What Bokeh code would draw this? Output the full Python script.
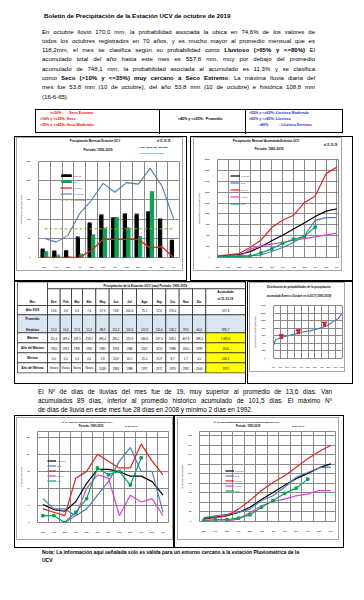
from bokeh.plotting import figure
from bokeh.models import Div, Spacer, Range1d, FixedTicker, Legend, LegendItem
from bokeh.layouts import column, row
from bokeh.embed import file_html
from bokeh.resources import INLINE
from bokeh.core.properties import value

FONT = "Liberation Sans"
GRID = "#8a8a8a"
FRAME = "#a6a6a6"
BLUE = "#4a7ebb"
RED = "#e2231a"
MAG = "#e03ce0"
GREEN = "#00a84f"
OLIVE = "#9aae2e"

# ---------------- data ----------------
meses = ["Ene", "Feb", "Mar", "Abr", "May", "Jun", "Jul", "Ago", "Sep", "Oct", "Nov", "Dic"]

lluvia_2019 = [13.6, 4.6, 0.0, 7.4, 57.3, 74.8, 102.6, 75.1, 52.6, 170.0]
promedio_hist = [21.3, 16.3, 17.3, 52.4, 88.9, 110.3, 102.6, 112.9, 111.6, 118.2, 99.5, 44.4]
maximo = [111.6, 189.4, 139.3, 318.3, 285.4, 290.1, 223.9, 344.6, 247.6, 318.1, 407.3, 188.4]
anio_maximo = ["1950", "1951", "1995", "1981", "1987", "1956", "1986", "2007", "2010", "1988", "2010", "1999"]
minimo = [0.0, 0.0, 0.0, 0.0, 5.8, 20.8, 20.5, 25.0, 31.9, 8.7, 1.7, 0.0]
anio_minimo = ["Varios", "Varios", "Varios", "Varios", "2018", "1984", "1988", "1971", "1971", "1973", "1992", "2006"]
acumulado = ["557,8", "895,7", "1.695,5", "2010", "446,5", "1971"]

linea_azul = [50, 40, 57, 114, 149, 193, 170, 195, 191, 232, 187, 101]
linea_roja = [0, 0, 0, 0, 19, 47, 47, 47, 47, 25, 28, 0]
media_mensual = [74.7, 74.7, 74.7, 74.7, 74.7, 74.7, 74.7, 74.7, 74.7, 74.7, 74.7, 74.7]

acum_promedio = [21.3, 37.6, 54.9, 107.3, 196.2, 306.5, 409.1, 522.0, 633.6, 751.8, 851.3, 895.7]
acum_2018 = [20, 25, 30, 35, 45, 110, 183, 275, 400, 683, 732, 735]
acum_maximo = [30, 50, 73, 183, 317, 549, 683, 775, 1006, 1128, 1537, 1660]
acum_minimo = [0, 0, 12, 150, 213, 244, 275, 317, 348, 378, 415, 446.5]
acum_2019 = [13.6, 18.2, 18.2, 25.6, 82.9, 157.7, 260.3, 335.4, 388.0, 557.8]

prob_pct = [0, 3, 9, 17, 31, 41, 53, 66, 78, 86, 94, 100]
prob_mm = [351, 497, 540, 583, 643, 694, 729, 797, 866, 968, 1054, 1208]
marca_pct = [11.3, 36, 74]
marca_mm = [557.8, 683, 883]
marca_txt = ["2019", "2018", "2017"]
pct_labels = ["0%", "10%", "20%", "30%", "40%", "50%", "60%", "70%", "80%", "90%", "100%"]

dias_promedio = [5.3, 3.8, 3.3, 6.1, 11.5, 15.6, 15.6, 14.9, 13.6, 13.6, 12.0, 8.0]
dias_2018 = [7, 4, 4, 2, 4, 8, 12, 18, 22, 15, 15, 3]
dias_maximo = [4, 3, 2, 13, 15, 20, 18, 16, 16, 23, 18, 14]
dias_minimo = [0, 0, 0, 2, 10, 14, 13, 2, 8, 6, 7, 2]
dias_2019 = [2, 2, 0, 3, 7, 16, 14, 15, 11, 19]

dacum_promedio = [5, 9, 12, 19, 30, 46, 61, 76, 90, 101, 113, 121]
dacum_2018 = [8, 12, 15, 19, 26, 44, 54, 72, 93, 103, 113, 114]
dacum_maximo = [7, 8, 12, 26, 44, 65, 82, 96, 114, 132, 147, 160]
dacum_minimo = [1, 1, 1, 5, 19, 33, 42, 47, 54, 58, 65, 65]
dacum_2019 = [2, 4, 4, 7, 14, 30, 44, 59, 70, 89]

# ---------------- helpers ----------------
FF = "font-family:'Liberation Sans',Arial,sans-serif;color:#000;"


def fmt(v):
    return f"{v:,.1f}".replace(",", "X").replace(".", ",").replace("X", ".")


def chart(w, h, xr, yr, yt, mb, ylabel, xgrid, xticks, xlabels):
    p = figure(width=w, height=h, x_range=Range1d(*xr), y_range=Range1d(*yr),
               output_backend="svg", toolbar_location=None,
               min_border_top=mb[0], min_border_right=mb[1],
               min_border_bottom=mb[2], min_border_left=mb[3])
    p.outline_line_color = GRID
    p.outline_line_width = 1
    p.xaxis.ticker = FixedTicker(ticks=xticks)
    p.xaxis.major_label_overrides = dict(zip(xticks, xlabels))
    p.yaxis.ticker = FixedTicker(ticks=yt)
    for ax in p.axis:
        ax.axis_line_color = None
        ax.major_tick_line_color = None
        ax.minor_tick_line_color = None
        ax.major_label_text_font = FONT
        ax.major_label_text_font_size = "2.3px"
        ax.major_label_text_font_style = "bold"
        ax.major_label_standoff = 2
    p.yaxis.axis_label = ylabel
    p.yaxis.axis_label_text_font = FONT
    p.yaxis.axis_label_text_font_size = "2.2px"
    p.yaxis.axis_label_text_font_style = "bold"
    p.yaxis.axis_label_standoff = 1
    p.xgrid.ticker = FixedTicker(ticks=xgrid)
    p.xgrid.grid_line_color = GRID
    p.ygrid.grid_line_color = GRID
    return p


def legend(p, items, loc, gw, sp):
    lg = Legend(items=[LegendItem(label=l, renderers=[r]) for l, r in items],
                location=loc, orientation="vertical", background_fill_alpha=0,
                border_line_color=None, label_text_font=FONT, label_text_font_size="2px",
                glyph_width=gw, glyph_height=3, label_height=3, spacing=sp,
                padding=0, margin=0, label_standoff=1)
    p.add_layout(lg)


def tspan(x, y, txt, size, align="center", color="#000"):
    tr = "transform:translateX(-50%);" if align == "center" else ""
    return (f'<div style="position:absolute;left:{x}px;top:{y - 2.5}px;line-height:5px;'
            f'font-size:{size};font-weight:bold;white-space:nowrap;color:{color};{tr}">{txt}</div>')


def titled(fig, w, th, texts, m):
    html = (f'<div style="position:relative;width:{w}px;height:{th}px;{FF}">'
            + "".join(tspan(*t) for t in texts) + '</div>')
    d = Div(text=html, width=w, height=th, margin=0)
    inner = column(d, fig, spacing=0, styles={"border": f"1px solid {FRAME}"})
    inner.margin = m
    return column(inner, styles={"border": "1px solid #000"})


idx = list(range(12))
mgrid = [i - 0.5 for i in range(13)]

# ---------------- chart 1 ----------------
f1 = chart(165, 112, (-0.5, 11.5), (0, 250), [0, 50, 100, 150, 200, 250], (3, 3, 10, 8),
           "Precipitación mensual (mm)", mgrid, idx, meses)
x_prom = [i - 0.15 for i in idx]
x_19 = [i + 0.15 for i in range(len(lluvia_2019))]
r_prom = f1.vbar(x=x_prom, top=promedio_hist, width=0.28, color="black")
r_19 = f1.vbar(x=x_19, top=lluvia_2019, width=0.28, color=GREEN)
f1.text(x=x_prom, y=promedio_hist, text=[fmt(v) for v in promedio_hist], text_font=value(FONT),
        text_font_size="2px", text_font_style="bold", text_align="center", text_baseline="bottom", y_offset=-0.5)
f1.text(x=x_19, y=lluvia_2019, text=[fmt(v) for v in lluvia_2019], text_font=value(FONT),
        text_font_size="2px", text_font_style="bold", text_align="center", text_baseline="bottom", y_offset=-0.5)
r_roja = f1.line(idx, linea_roja, color=RED, line_width=1.3)
r_azul = f1.line(idx, linea_azul, color=BLUE, line_width=1.1)
r_med = f1.line(idx, media_mensual, color=OLIVE, line_width=1, line_dash="3 2")
legend(f1, [("Promedio", r_prom), ("2019", r_19), ("Año seco", r_roja), ("Año lluvioso", r_azul),
            ("Media mensual", r_med)], (22, 56), 12, 3)
c1 = titled(f1, 165, 20, [
    (78, 3, "Precipitación Mensual Estación UCV", "2.9px"),
    (81, 12, "Periodo: 1950-2019", "3.2px"),
    (140, 3, "al 31-10-19", "2.6px", "left"),
    (122, 9, "Prom. anual hist.: 896 mm", "2.3px", "left"),
    (122, 15, "Acum. 2019: 557,8 mm", "2.3px", "left", GREEN),
], (0, 3, 9, 1))

# ---------------- chart 2 ----------------
f2 = chart(147, 114, (0, 11.15), (0, 1800), list(range(0, 1801, 200)), (3, 3, 13, 14),
           "Precipitación acumulada (mm)", idx, idx, meses)
a1 = f2.line(idx, acum_promedio, color="black", line_width=1.2)
a2 = f2.line(idx, acum_2018, color=BLUE, line_width=1.2)
a3 = f2.line(idx, acum_maximo, color=RED, line_width=1.2)
a4 = f2.line(idx, acum_minimo, color=MAG, line_width=1.2)
a5 = f2.line(list(range(len(acum_2019))), acum_2019, color=GREEN, line_width=1.2)
f2.scatter(list(range(len(acum_2019))), acum_2019, marker="square", size=2.5, color=GREEN)
legend(f2, [("Promedio", a1), ("2018", a2), ("Máximo", a3), ("Mínimo", a4), ("2019", a5)], (13, 52), 10, 4)
c2 = titled(f2, 147, 18, [
    (72, 3, "Precipitación Mensual Acumulada Estación UCV", "2.9px"),
    (75, 11, "Periodo: 1950-2019", "3.2px"),
    (130, 7, "al 31-10-19", "2.6px", "left"),
], (0, 10, 9, 2))

# ---------------- table ----------------
tb = figure(width=230, height=101, x_range=Range1d(23, 253), y_range=Range1d(383, 282),
            output_backend="svg", toolbar_location=None, x_axis_location=None,
            y_axis_location=None, min_border=0)
tb.grid.visible = False
tb.outline_line_color = None
cb = [25, 55, 67.7, 79, 90, 103.3, 116.7, 130, 144, 160, 173.3, 186.7, 200, 213.3, 253]
rb = [288.3, 305, 314.3, 332.3, 342.3, 352.3, 362.3, 372.3]
tb.quad(left=[25, 55], right=[55, 253], top=[282, 282], bottom=[305, 288.3],
        fill_color="white", line_color="black", line_width=0.6)
hl, hr = cb[1:-1], cb[2:]
tb.quad(left=hl, right=hr, top=[288.3] * len(hl), bottom=[305] * len(hl),
        fill_color="white", line_color="black", line_width=0.6)
filas = ["Año 2019", "Promedio Histórico", "Máximo", "Año del Máximo", "Mínimo", "Año del Mínimo"]
valores = [
    [fmt(v) for v in lluvia_2019] + ["", ""],
    [fmt(v) for v in promedio_hist],
    [fmt(v) for v in maximo],
    anio_maximo,
    [fmt(v) for v in minimo],
    anio_minimo,
]
L, R, T, B, C = [], [], [], [], []
tx, ty, tt, lx, ly, lt = [], [], [], [], [], []
for r in range(len(filas)):
    top, bot = rb[r + 1], rb[r + 2]
    for c in range(len(cb) - 1):
        L.append(cb[c]); R.append(cb[c + 1]); T.append(top); B.append(bot)
        if r == 1:
            C.append("#dbe5f1")
        elif c == len(cb) - 2 and r >= 2:
            C.append("#ffff00")
        else:
            C.append("white")
    yv = bot - 3.3 if r == 1 else (top + bot) / 2
    for c in range(12):
        tx.append((cb[c + 1] + cb[c + 2]) / 2); ty.append(yv); tt.append(valores[r][c])
    tx.append((cb[13] + cb[14]) / 2); ty.append(yv); tt.append(acumulado[r])
    if r == 1:
        lx += [40, 40]; ly += [top + 4.2, bot - 3.3]; lt += ["Promedio", "Histórico"]
    else:
        lx.append(40); ly.append((top + bot) / 2); lt.append(filas[r])
tb.quad(left=L, right=R, top=T, bottom=B, fill_color=C, line_color="black", line_width=0.6)
tb.text(x=tx, y=ty, text=tt, text_font=value(FONT), text_font_size="2.9px",
        text_align="center", text_baseline="middle")
tb.text(x=lx, y=ly, text=lt, text_font=value(FONT), text_font_size="3px", text_font_style="bold",
        text_align="center", text_baseline="middle")
hx = [40] + [(cb[c + 1] + cb[c + 2]) / 2 for c in range(12)]
tb.text(x=hx, y=[301] * len(hx), text=["Mes"] + meses, text_font=value(FONT), text_font_size="3px",
        text_font_style="bold", text_align="center", text_baseline="middle")
tb.text(x=[233, 233, 154], y=[291.5, 298, 285.3],
        text=["Acumulado", "al 31-10-19", "Precipitación de la Estación UCV (mm)    Periodo: 1950-2019"],
        text_font=value(FONT), text_font_size="3px", text_font_style="bold",
        text_align="center", text_baseline="middle")

# ---------------- probability chart ----------------
fp = chart(94, 68, (0, 100), (0, 1400), list(range(0, 1401, 200)), (2, 2, 12, 10),
           "Precipitación acumulada (mm)", list(range(0, 101, 10)), list(range(0, 101, 10)), pct_labels)
fp.xaxis.major_label_text_font_size = "2px"
fp.line(prob_pct, prob_mm, color=BLUE, line_width=1.2)
fp.scatter(marca_pct, marca_mm, marker="square", size=2.5, color=RED)
fp.text(x=marca_pct, y=marca_mm, text=marca_txt, text_font=value(FONT), text_font_size="1.8px",
        text_font_style="bold", text_color="#a00000", text_align="center", text_baseline="bottom",
        y_offset=-2, background_fill_color="#f6c0c0", border_line_color=RED, padding=0)
cp = titled(fp, 94, 20, [
    (49, 4, "Distribución de probabilidades de la precipitación", "2.7px"),
    (49, 13, "acumulada Enero a Octubre en la UCV (1950-2019)", "2.7px"),
], (0, 7, 11, 1))

# ---------------- chart 3 ----------------
f3 = chart(155, 110, (-0.5, 11.5), (0, 26.7), [0, 5, 10, 15, 20, 25], (2, 4, 17, 11),
           "Nº de días de lluvia", mgrid, idx, meses)
d1 = f3.line(idx, dias_promedio, color="black", line_width=1.2)
d2 = f3.line(idx, dias_2018, color=BLUE, line_width=1.2)
d3 = f3.line(idx, dias_maximo, color=RED, line_width=1.2)
d4 = f3.line(idx, dias_minimo, color=MAG, line_width=1.2)
d5 = f3.line(list(range(len(dias_2019))), dias_2019, color=GREEN, line_width=1.2)
f3.scatter(list(range(len(dias_2019))), dias_2019, marker="square", size=2.5, color=GREEN)
legend(f3, [("Promedio", d1), ("2018", d2), ("Máximo", d3), ("Mínimo", d4), ("2019", d5)], (10, 40), 9, 2)
c3 = titled(f3, 155, 11, [
    (70, 3.3, "Nº de días de lluvia mensual Estación UCV", "2.5px"),
    (74, 7.9, "Periodo: 1950-2019", "2.7px"),
    (108, 7.9, "al 31-10-19", "2.4px", "left"),
], (1, 0, 7, 1))

# ---------------- chart 4 ----------------
f4 = chart(160, 110, (-0.36, 11.4), (0, 189), list(range(0, 181, 20)), (2, 3, 18, 15),
           "Nº de días acumulados", mgrid, idx, meses)
e1 = f4.line(idx, dacum_promedio, color="black", line_width=1.2)
e2 = f4.line(idx, dacum_2018, color=BLUE, line_width=1.2)
e3 = f4.line(idx, dacum_maximo, color=RED, line_width=1.2)
e4 = f4.line(idx, dacum_minimo, color=MAG, line_width=1.2)
e5 = f4.line(list(range(len(dacum_2019))), dacum_2019, color=GREEN, line_width=1.2)
f4.scatter(list(range(len(dacum_2019))), dacum_2019, marker="square", size=2.5, color=GREEN)
legend(f4, [("Promedio", e1), ("2018", e2), ("Máximo", e3), ("Mínimo", e4), ("2019", e5)], (26, 29), 9, 2)
c4 = titled(f4, 160, 11, [
    (68.5, 3.3, "Nº de días acumulados de lluvia mensual Estación UCV", "2.5px"),
    (70, 7.9, "Periodo: 1950-2019", "2.7px"),
    (114, 7.9, "al 31-10-19", "2.4px", "left"),
], (1, 4, 7, 2))

# ---------------- text blocks ----------------
JL = "text-align:justify;text-align-last:justify;"

p1 = [
    "En octubre llovió 170,0 mm, la probabilidad asociada la ubica en 74,6% de los valores de",
    "todos los octubres registrados en 70 años, y es mucho mayor al promedio mensual que es",
    "118,2mm, el mes se clasifica según su probabilidad como <b>Lluvioso (&gt;65% y &lt;=80%)</b> El",
    "acumulado total del año hasta este mes es 557,8 mm, muy por debajo del promedio",
    "acumulado de 748,1 mm, la probabilidad asociada al acumulado es 11,3% y se clasifica",
    "como <b>Seco (&gt;10% y &lt;=35%) muy cercano a Seco Extremo</b>. La máxima lluvia diaria del",
    "mes fue 53,8 mm (10 de octubre), del año 53,8 mm (10 de octubre) e histórica 108,8 mm",
]
head_html = (
    f'<div style="position:relative;width:348px;height:101px;{FF}">'
    '<div style="position:absolute;left:44px;top:3.5px;font-size:6.2px;font-weight:bold;'
    'line-height:7px;white-space:nowrap;">Boletin de Precipitación de la Estación UCV de octubre de 2019</div>'
    '<div style="position:absolute;left:42px;top:19.6px;width:273px;font-size:6.05px;line-height:9.3px;">'
    + "".join(f'<div style="{JL}">{t}</div>' for t in p1)
    + '<div>(16-6-65).</div></div></div>'
)
head = Div(text=head_html, width=348, height=101, margin=0)


def sp(left, top, txt, color):
    return (f'<div style="position:absolute;left:{left}px;top:{top}px;line-height:4px;'
            f'white-space:nowrap;color:{color};">{txt}</div>')


RD, BL = "#ff0000", "#2233cc"
class_html = (
    f'<div style="position:relative;width:348px;height:27px;{FF}font-size:3.6px;font-weight:bold;">'
    '<div style="position:absolute;left:35px;top:0;width:308px;height:24px;border:1px solid #000;border-top:1.5px solid #000;"></div>'
    '<div style="position:absolute;left:159px;top:0;height:25px;border-left:1px solid #000;"></div>'
    '<div style="position:absolute;left:245px;top:0;height:25px;border-left:1px solid #000;"></div>'
    + sp(50, 1.5, "&lt;=10%", RD) + sp(67, 1.5, ": Seco Extremo", RD)
    + sp(40, 8, "&gt;10% y &lt;=35%: Seco", RD)
    + sp(40, 14.3, "&gt;35% y &lt;=45%: Seco Moderado", RD)
    + sp(178, 8, "&gt;45% y &lt;=55%:&nbsp; Promedio", "#000")
    + sp(249, 1.5, "&gt;55% y &lt;=65%: Lluvioso Moderado", BL)
    + sp(249, 8, "&gt;65% y &lt;=80%: Lluvioso", BL)
    + sp(259, 14.3, "&gt;80%", BL) + sp(279, 14.3, ": Lluvioso Extremo", BL)
    + '</div>'
)
clas = Div(text=class_html, width=348, height=27, margin=0)

p2 = [
    "El Nº de días de lluvias del mes fue de 19, muy superior al promedio de 13,6 días. Van",
    "acumulados 89 días, inferior al promedio histórico acumulado de 101,5 días. El máximo Nº",
]
para2_html = (
    f'<div style="position:relative;width:348px;height:31px;{FF}">'
    '<div style="position:absolute;left:38px;top:2.7px;width:294px;font-size:6.4px;line-height:9.2px;">'
    + "".join(f'<div style="{JL}">{t}</div>' for t in p2)
    + '<div>de días de lluvia en este mes fue 28 días en 2008 y mínimo 2 días en 1992.</div></div></div>'
)
para2 = Div(text=para2_html, width=348, height=31, margin=0)

note_html = (
    f'<div style="position:relative;width:348px;height:36px;{FF}">'
    '<div style="position:absolute;left:42px;top:0px;width:300px;font-size:5px;font-weight:bold;line-height:8px;">'
    '<div style="white-space:nowrap;">Nota: La información aquí señalada solo es válida para un entorno cercano a la estación Pluviométrica de la</div>'
    '<div>UCV</div></div></div>'
)
note = Div(text=note_html, width=348, height=36, margin=0)

# ---------------- layout ----------------
tcell = column(tb, styles={"border": "1px solid #000"})
row1 = row(Spacer(width=14), c1, Spacer(width=3), c2, spacing=0)
row2 = row(Spacer(width=14), tcell, Spacer(width=1), cp, spacing=0)
row4 = row(Spacer(width=14), c3, c4, spacing=0)

page = column(Spacer(width=10, height=8), head, clas, row1, row2, para2, row4, note, spacing=0)

open("out.html", "w").write(file_html(page, INLINE))
